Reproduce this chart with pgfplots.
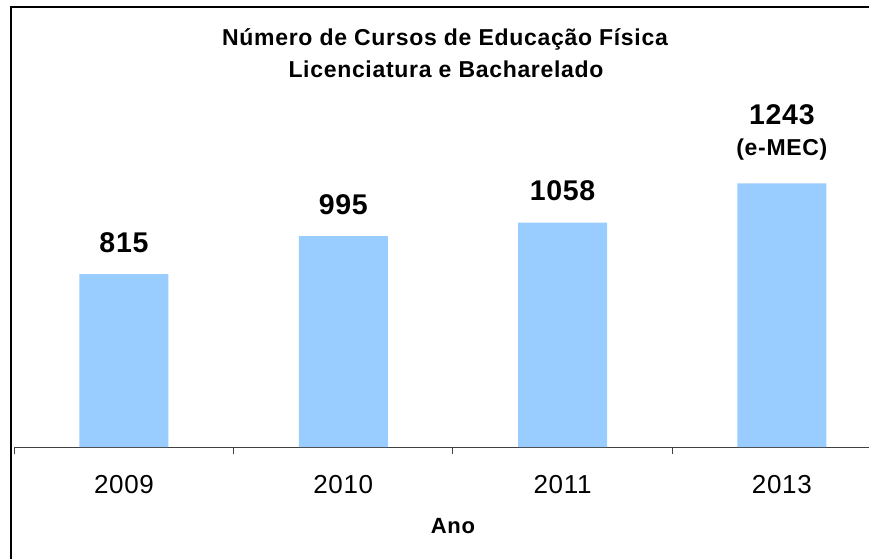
\documentclass[border=0pt]{standalone}
\usepackage{fontspec}
\setmainfont{Liberation Sans}
\usepackage{pgfplots}
\pgfplotsset{compat=1.18}
\definecolor{barblue}{HTML}{99CCFF}
\definecolor{axisgray}{HTML}{404040}
\newfontfamily\spacedA[LetterSpace=3]{Liberation Sans}
\newfontfamily\spacedB[LetterSpace=2.5]{Liberation Sans}
\newcommand\titlef{\spacedA\bfseries\fontsize{23pt}{28pt}\selectfont}
\newcommand\tickf{\spacedB\fontsize{26pt}{30pt}\selectfont}
\newcommand\dataf{\spacedB\bfseries\fontsize{28.5pt}{32pt}\selectfont}
\newcommand\emecf{\spacedA\bfseries\fontsize{23pt}{26pt}\selectfont}
\newcommand\labf{\spacedA\bfseries\fontsize{22pt}{26pt}\selectfont}
\begin{document}
\begin{tikzpicture}
\begin{axis}[
  at={(14.3pt,111pt)}, anchor=south west,
  x=219.3pt, y=0.212pt,
  xmin=-0.5, xmax=3.5, ymin=0, ymax=2000,
  enlargelimits=false,
  axis x line*=bottom, axis y line=none,
  axis line style={axisgray, line width=1pt},
  xtick={-0.5,0.5,1.5,2.5,3.5},
  xticklabels={{\mbox{2009}},{\mbox{2010}},{\mbox{2011}},{\mbox{2013}}},
  x tick label as interval,
  major tick length=7pt, tick align=outside,
  tick style={axisgray, line width=1pt},
  xticklabel style={font=\tickf, anchor=north, inner sep=0pt, yshift=-21pt},
  xlabel={Ano},
  xlabel style={font=\labf, at={(axis description cs:0.5,0)}, anchor=north, inner sep=0pt, yshift=-71pt},
  clip=false,
]
\addplot[ybar, fill=barblue, draw=none, bar width=89pt] coordinates {(0,815) (1,995) (2,1058) (3,1243)};
\node[anchor=base, inner sep=0pt, font=\dataf, yshift=22pt] at (axis cs:0,815) {815};
\node[anchor=base, inner sep=0pt, font=\dataf, yshift=22pt] at (axis cs:1,995) {995};
\node[anchor=base, inner sep=0pt, font=\dataf, yshift=22pt] at (axis cs:2,1058) {1058};
\node[anchor=base, inner sep=0pt, font=\dataf, yshift=59pt] at (axis cs:3,1243) {1243};
\node[anchor=base, inner sep=0pt, font=\emecf, yshift=28pt] at (axis cs:3,1243) {(e-MEC)};
\end{axis}
\node[anchor=base, inner sep=0pt, font=\titlef] at (445pt,512pt) {Número de Cursos de Educação Física};
\node[anchor=base, inner sep=0pt, font=\titlef] at (446pt,480pt) {Licenciatura e Bacharelado};
\draw[line width=1.6pt] (11pt,-10pt) -- (11pt,551pt) -- (880pt,551pt);
\pgfresetboundingbox
\path[use as bounding box] (0pt,0pt) rectangle (869pt,558pt);
\end{tikzpicture}
\end{document}
